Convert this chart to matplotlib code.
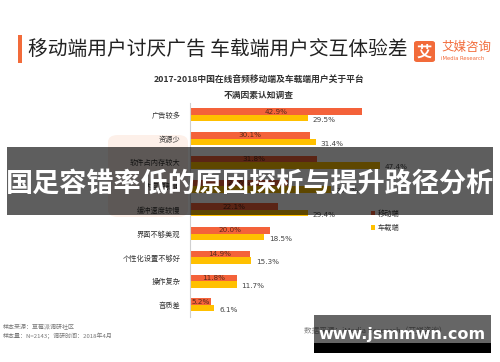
import matplotlib
matplotlib.use("Agg")
import matplotlib.pyplot as plt
from matplotlib.patches import Rectangle, FancyBboxPatch

plt.rcParams['font.family'] = ['Noto Sans CJK SC', 'DejaVu Sans']

# 数据
categories = ["广告较多", "资源少", "软件占内存较大", "内容更新慢", "缓冲速度较慢",
              "界面不够美观", "个性化设置不够好", "操作复杂", "音质差"]
mobile = [42.9, 30.1, 31.8, 24.6, 22.1, 20.0, 14.9, 11.8, 5.2]
car = [29.5, 31.4, 47.4, 35.2, 29.4, 18.5, 15.3, 11.7, 6.1]
series_names = ["移动端", "车载端"]

W, H = 500, 362
fig = plt.figure(figsize=(5, 3.62), dpi=100)
fig.patch.set_facecolor("white")


def fx(x):
    return x / W


def fy(y):
    return 1 - y / H


def rect(x0, y0, x1, y1, **kw):
    r = Rectangle((fx(x0), fy(y1)), fx(x1) - fx(x0), (y1 - y0) / H,
                  transform=fig.transFigure, **kw)
    fig.add_artist(r)
    return r


RED = "#f4623a"
YEL = "#ffc000"
ORANGE = "#f26b3a"

# 背景水印（很淡）
wm = FancyBboxPatch((fx(108), fy(217)), 80 / W, 82 / H,
                    boxstyle="round,pad=0,rounding_size=0.02",
                    transform=fig.transFigure, fc="#fdf0e9", ec="none", zorder=0)
fig.add_artist(wm)

# 标题
rect(18, 35, 22, 63, fc=ORANGE, ec="none")
fig.text(fx(28), fy(49), "移动端用户讨厌广告 车载端用户交互体验差", fontsize=14.2,
         color="#222222", ha="left", va="center", fontweight="medium")

# logo
logo = FancyBboxPatch((fx(414), fy(62)), 21 / W, 21 / H,
                      boxstyle="round,pad=0,rounding_size=0.006",
                      transform=fig.transFigure, fc=ORANGE, ec="none")
fig.add_artist(logo)
fig.text(fx(424.5), fy(51.5), "艾", color="white", fontsize=11, fontweight="bold",
         ha="center", va="center")
fig.text(fx(441), fy(47), "艾媒咨询", color=ORANGE, fontsize=9, ha="left", va="center")
fig.text(fx(441), fy(58), "iMedia Research", color=ORANGE, fontsize=3.8,
         ha="left", va="center", family="DejaVu Sans")

# 副标题
fig.text(fx(259), fy(79), "2017-2018中国在线音频移动端及车载端用户关于平台",
         fontsize=6.3, fontweight="bold", color="#333333", ha="center", va="center")
fig.text(fx(259), fy(95), "不满因素认知调查", fontsize=6.3, fontweight="bold",
         color="#333333", ha="center", va="center")

# 主图
row = 23.75
top, bottom = 103, 103 + row * 9
ax = fig.add_axes([fx(190), fy(bottom), 220 / W, (bottom - top) / H])
ax.set_facecolor("none")
ypos = list(range(len(categories)))
bh = 0.27
b1 = ax.barh([y - bh / 2 for y in ypos], mobile, height=bh, color=RED, label=series_names[0])
b2 = ax.barh([y + bh / 2 for y in ypos], car, height=bh, color=YEL, label=series_names[1])
ax.set_xlim(0, 55)
ax.set_ylim(len(categories) - 0.5, -0.5)
for s in ["top", "right", "bottom"]:
    ax.spines[s].set_visible(False)
ax.spines["left"].set_color("#d0d0d0")
ax.spines["left"].set_linewidth(0.8)
ax.set_xticks([])
ax.set_yticks(ypos)
ax.set_yticklabels(categories, fontsize=5.2, color="#333333")
ax.tick_params(axis="y", length=0, pad=7)

for y, v in zip(ypos, mobile):
    ax.text(v / 2, y - bh / 2, f"{v:.1f}%", fontsize=5.2, color="#5a2a1a",
            ha="center", va="center", family="DejaVu Sans")
for y, v in zip(ypos, car):
    ax.text(v + 1.2, y + bh / 2 + 0.08, f"{v:.1f}%", fontsize=5.2, color="#444444",
            ha="left", va="center", family="DejaVu Sans")

leg = ax.legend(handles=[b1, b2], labels=series_names, loc="upper left",
                bbox_to_anchor=(fx(364), fy(203)), bbox_transform=fig.transFigure,
                frameon=False, fontsize=5.2, handlelength=0.6, handleheight=0.6,
                handletextpad=0.4, labelspacing=0.9)
for t in leg.get_texts():
    t.set_color("#333333")

# 脚注
fig.text(fx(3), fy(326), "样本来源：草莓派调研社区", fontsize=4.3, color="#777777",
         ha="left", va="center")
fig.text(fx(3), fy(336), "样本量：N=2143；调研时间：2018年4月", fontsize=4.3,
         color="#777777", ha="left", va="center")
fig.text(fx(304), fy(331), "数据来源：iMedia Research（艾媒咨询）", fontsize=5.5,
         color="#888888", ha="left", va="center")

# 横幅
rect(7, 147, 493, 215, fc="black", ec="none", alpha=0.63, zorder=10)
fig.text(fx(250), fy(184), "国足容错率低的原因探析与提升路径分析", fontsize=19.5,
         fontweight="bold", color="white", ha="center", va="center", zorder=11)

# 右下角水印
rect(314, 315, 491, 343, fc="black", ec="none", alpha=0.6, zorder=10)
rect(314, 343, 491, 353, fc="black", ec="none", zorder=10)
fig.text(fx(402), fy(334), "www.jsmmwn.com", fontsize=11.5, fontweight="bold",
         color="white", ha="center", va="center", zorder=11, family="DejaVu Sans")

fig.savefig("out.png", dpi=100)
